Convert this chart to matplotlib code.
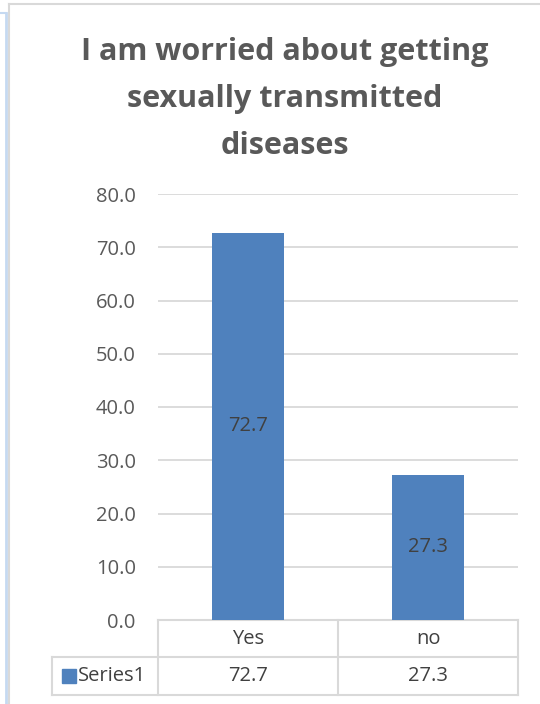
import matplotlib
matplotlib.use("Agg")
import matplotlib.pyplot as plt
from matplotlib.lines import Line2D
from matplotlib.patches import Rectangle
import matplotlib.transforms as mtransforms

categories = ["Yes", "no"]
values = [72.7, 27.3]
series_name = "Series1"
yticks = [0, 10, 20, 30, 40, 50, 60, 70, 80]
title = "I am worried about getting\nsexually transmitted\ndiseases"

W, H = 540, 704
fig = plt.figure(figsize=(W / 100, H / 100), dpi=100)
fig.patch.set_facecolor("white")

FS = 14.5
FAM = "Open Sans"

def fx(px):
    return px / W

def fy(py):
    return 1 - py / H

# outer frame decorations
fig.add_artist(Line2D([fx(0), fx(6)], [fy(13), fy(13)], color="#C5D9F1", lw=1.5))
fig.add_artist(Line2D([fx(6), fx(6)], [fy(13), fy(704)], color="#C5D9F1", lw=2))
fig.add_artist(Line2D([fx(8.5), fx(540)], [fy(4), fy(4)], color="#D9D9D9", lw=1.5))
fig.add_artist(Line2D([fx(8.5), fx(8.5)], [fy(4), fy(704)], color="#D9D9D9", lw=1.5))

left, right, top, bottom = 158, 518, 194, 620
ax = fig.add_axes([fx(left), fy(bottom), fx(right - left), fy(top) - fy(bottom)])
ax.set_xlim(-0.5, 1.5)
ax.set_ylim(0, 80)
x = list(range(len(categories)))
bars = ax.bar(x, values, width=0.4, color="#4F81BD", zorder=3)
for xi, v in zip(x, values):
    ax.text(xi, v / 2, f"{v:.1f}", ha="center", va="center", fontsize=FS,
            color="#404040", family=FAM, zorder=4)

ax.set_yticks(yticks)
ax.set_yticklabels([f"{t:.1f}" for t in yticks], fontsize=FS, color="#595959", family=FAM)
ax.tick_params(axis="y", length=0, pad=16)
ax.set_xticks([])
ax.grid(axis="y", color="#D9D9D9", lw=1.3, zorder=0)
for s in ax.spines.values():
    s.set_visible(False)

# data table below the axis
trans = mtransforms.blended_transform_factory(ax.transData, ax.transAxes)
ppu = (right - left) / 2.0  # pixels per data unit
axh = bottom - top

def dx(px):
    return -0.5 + (px - left) / ppu

def ay(py):
    return (bottom - py) / axh

row1, row2 = 657, 695
lc = "#D9D9D9"
lines = [
    ([dx(158), dx(518)], [ay(620), ay(620)]),
    ([dx(52), dx(518)], [ay(row1), ay(row1)]),
    ([dx(52), dx(518)], [ay(row2), ay(row2)]),
    ([dx(52), dx(52)], [ay(row1), ay(row2)]),
    ([dx(158), dx(158)], [ay(620), ay(row2)]),
    ([dx(338), dx(338)], [ay(620), ay(row2)]),
    ([dx(518), dx(518)], [ay(620), ay(row2)]),
]
for xs, ys in lines:
    ax.add_line(Line2D(xs, ys, transform=trans, color=lc, lw=1.5, clip_on=False))

for xi, c, v in zip(x, categories, values):
    ax.text(xi, ay((620 + row1) / 2), c, transform=trans, ha="center", va="center",
            fontsize=FS, color="#404040", family=FAM, clip_on=False)
    ax.text(xi, ay((row1 + row2) / 2), f"{v:.1f}", transform=trans, ha="center", va="center",
            fontsize=FS, color="#404040", family=FAM, clip_on=False)

ax.add_patch(Rectangle((dx(62), ay(683)), dx(76) - dx(62), ay(669) - ay(683), transform=trans,
                       color="#4F81BD", clip_on=False))
ax.text(dx(78), ay((row1 + row2) / 2), series_name, transform=trans, ha="left", va="center",
        fontsize=FS, color="#404040", family=FAM, clip_on=False)

fig.text(fx(285), fy(99), title, ha="center", va="center", fontsize=22, fontweight="bold",
         color="#595959", family=FAM, linespacing=1.72)

fig.savefig("out.png", dpi=100)
